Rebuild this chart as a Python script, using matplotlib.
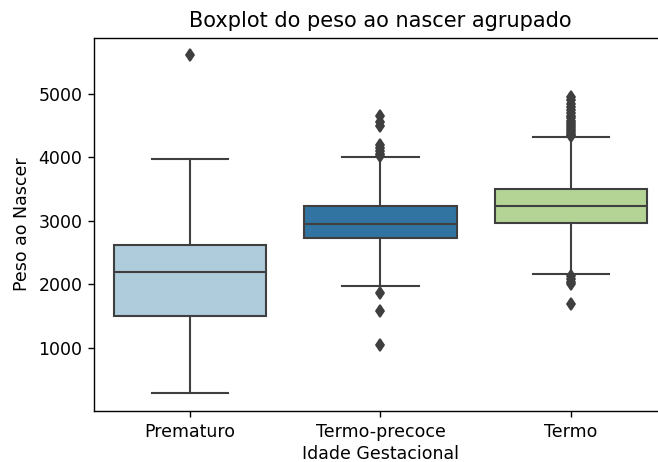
import matplotlib
matplotlib.use("Agg")
import matplotlib.pyplot as plt
import seaborn as sns

# estatisticas
categorias = ["Prematuro", "Termo-precoce", "Termo"]
q1 = [1495, 2736, 2973]
mediana = [2190, 2948, 3242]
q3 = [2616, 3237, 3510]
whis_baixo = [278, 1978, 2163]
whis_alto = [3975, 4000, 4322]
outliers = [
    [5611],
    [4650, 4560, 4490, 4200, 4150, 4100, 4060, 4020, 1870, 1580, 1050],
    [4960, 4900, 4850, 4800, 4750, 4700, 4660, 4620, 4580, 4550, 4510,
     4480, 4450, 4420, 4390, 4360, 4335, 2130, 2080, 2040, 2000, 1690],
]

cores = [sns.desaturate(c, 0.75) for c in sns.color_palette("Paired", 3)]
cinza = "#3f3f3f"
lw = 1.2

stats = []
for i in range(len(categorias)):
    stats.append({"label": categorias[i], "q1": q1[i], "med": mediana[i], "q3": q3[i],
                  "whislo": whis_baixo[i], "whishi": whis_alto[i], "fliers": outliers[i]})

# figura original parece ter sido salva com dpi maior (tudo ~1.25x)
fig = plt.figure(figsize=(658 / 125, 462 / 125), dpi=125)
ax = fig.add_axes([0.1436, 0.111, 0.8693, 0.8074])

bp = ax.bxp(stats, positions=range(3), widths=0.8, patch_artist=True,
            boxprops=dict(edgecolor=cinza, linewidth=lw),
            medianprops=dict(color=cinza, linewidth=lw),
            whiskerprops=dict(color=cinza, linewidth=lw),
            capprops=dict(color=cinza, linewidth=lw),
            flierprops=dict(marker="d", markersize=5, markerfacecolor=cinza,
                            markeredgecolor=cinza, linestyle="none"))
for patch, c in zip(bp["boxes"], cores):
    patch.set_facecolor(c)

ax.set_xlim(-0.5, 2.5)
ax.set_ylim(6, 5888)
ax.set_xticks(range(3))
ax.set_xticklabels(categorias)
ax.set_yticks([1000, 2000, 3000, 4000, 5000])
ax.set_title("Boxplot do peso ao nascer agrupado")
ax.set_xlabel("Idade Gestacional", labelpad=2.5)
ax.set_ylabel("Peso ao Nascer")

plt.savefig("out.png")
